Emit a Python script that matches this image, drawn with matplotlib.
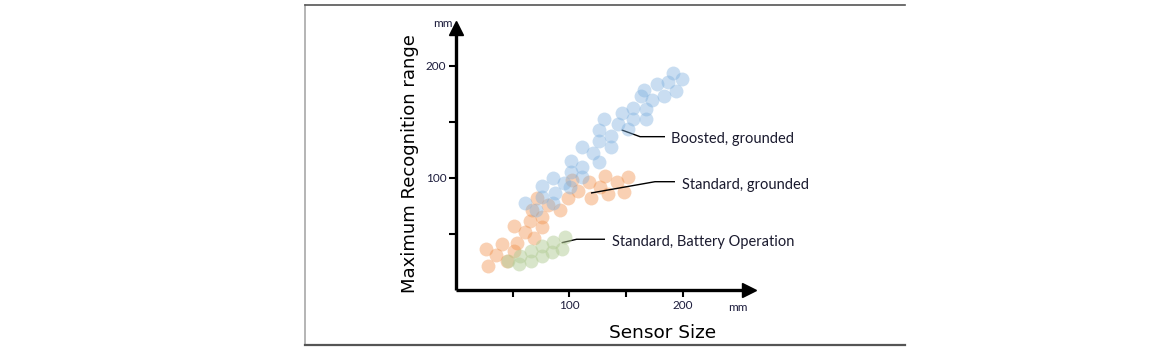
import matplotlib
matplotlib.use("Agg")
import matplotlib.pyplot as plt
from matplotlib.lines import Line2D

# ---- data ----
boosted_x = [60.8, 70.5, 75.8, 75.8, 85.5, 85.5, 87.3, 95.2, 100.5, 101.4, 101.4, 111.1, 111.1,
             111.1, 120.8, 126.1, 126.1, 126.1, 130.5, 136.7, 136.7, 142.9, 146.4, 151.7, 156.1,
             156.1, 163.1, 165.8, 167.5, 167.5, 172.8, 177.2, 183.4, 187.0, 191.4, 194.0, 199.3]
boosted_y = [77.7, 71.4, 92.9, 83.0, 100.0, 77.7, 86.6, 95.5, 92.0, 115.2, 105.4, 127.7, 109.8,
             100.9, 122.3, 142.9, 133.0, 114.3, 152.7, 137.5, 127.7, 148.2, 158.0, 143.8, 162.5,
             152.7, 173.2, 178.6, 161.6, 152.7, 169.6, 183.9, 173.2, 185.7, 193.8, 177.7, 188.4]

standard_x = [28.2, 26.5, 35.3, 40.6, 45.0, 51.1, 53.8, 51.1, 60.8, 65.3, 68.8, 75.8, 75.8, 67.0,
              71.4, 81.1, 91.7, 98.8, 102.3, 107.6, 117.3, 119.0, 127.0, 131.4, 134.0, 142.0,
              148.1, 151.7]
standard_y = [21.4, 36.6, 31.3, 41.1, 25.9, 34.8, 42.0, 57.1, 51.8, 61.6, 46.4, 56.3, 65.2, 71.4,
              82.1, 75.9, 71.4, 82.1, 98.2, 88.4, 96.4, 82.1, 92.0, 101.8, 85.7, 96.4, 87.5, 100.9]

battery_x = [45.9, 55.6, 56.4, 66.1, 66.1, 75.8, 75.8, 84.7, 85.5, 93.5, 96.1]
battery_y = [25.9, 23.2, 30.4, 25.9, 34.8, 30.4, 39.3, 33.9, 42.9, 36.6, 47.3]

tick_values = [50, 100, 150, 200]
tick_labels = ["", "100", "", "200"]

series_labels = ["Boosted, grounded", "Standard, grounded", "Standard, Battery Operation"]

# ---- figure ----
W, H = 1170, 351
fig = plt.figure(figsize=(W / 100, H / 100), dpi=100)
fig.patch.set_facecolor("white")

# frame around the chart
fig.add_artist(Line2D([305 / W, 305 / W], [1 - 5 / H, 1 - 345 / H], color="#a8a8a8", lw=1.2))
fig.add_artist(Line2D([305 / W, 905 / W], [1 - 345 / H, 1 - 345 / H], color="#555555", lw=1.6))
fig.add_artist(Line2D([305 / W, 905 / W], [1 - 5 / H, 1 - 5 / H], color="#555555", lw=1.2))

# axes: origin at pixel (456, 290), 1.134 px/unit in x, 1.12 px/unit in y
xmax, ymax = 258, 234
left = 456 / W
bottom = (H - 290) / H
ax = fig.add_axes([left, bottom, xmax * 1.134 / W, ymax * 1.12 / H])
ax.set_xlim(0, xmax)
ax.set_ylim(0, ymax)
ax.patch.set_alpha(0)

s = 100
ax.scatter(standard_x, standard_y, s=s, color="#f1914b", alpha=0.42, linewidths=0, zorder=2)
ax.scatter(battery_x, battery_y, s=s, color="#b3cc96", alpha=0.5, linewidths=0, zorder=3)
ax.scatter(boosted_x, boosted_y, s=s, color="#7fb0de", alpha=0.42, linewidths=0, zorder=4)

for side in ["top", "right"]:
    ax.spines[side].set_visible(False)
for side in ["left", "bottom"]:
    ax.spines[side].set_linewidth(2.4)
    ax.spines[side].set_color("black")
    ax.spines[side].set_capstyle("butt")

ax.plot(1, 0, ">", color="black", ms=10, transform=ax.get_yaxis_transform(), clip_on=False)
ax.plot(0, 1, "^", color="black", ms=10, transform=ax.get_xaxis_transform(), clip_on=False)

ax.set_xticks(tick_values)
ax.set_xticklabels(tick_labels)
ax.set_yticks(tick_values)
ax.set_yticklabels(tick_labels)
ax.tick_params(direction="out", length=5, width=1.5, colors="black", labelsize=8.5,
               labelcolor="#1c1c3c", pad=2)
for lab in ax.get_xticklabels() + ax.get_yticklabels():
    lab.set_family("Lato")

ax.text(-3, ymax + 4, "mm", ha="right", va="center", fontsize=8.5, family="Lato", color="#1c1c3c",
        clip_on=False)
ax.text(xmax - 1, -15.5, "mm", ha="right", va="center", fontsize=8.5, family="Lato",
        color="#1c1c3c", clip_on=False)

ax.set_xlabel("Sensor Size", fontsize=13.3, color="black")
ax.xaxis.set_label_coords((663 - 456) / (xmax * 1.134), -(333 - 290) / (ymax * 1.12))
ax.xaxis.label.set_va("center")
ax.set_ylabel("Maximum Recognition range", fontsize=13, color="black")
ax.yaxis.set_label_coords(-(456 - 410) / (xmax * 1.134), (290 - 164) / (ymax * 1.12))
ax.yaxis.label.set_va("center")

# annotation leader lines and labels
ann_style = dict(color="black", lw=1.0, clip_on=False, solid_capstyle="butt")
ax.plot([146.1, 162.3, 184.3], [142.9, 136.9, 136.9], **ann_style)
ax.plot([119.0, 175.5, 193.1], [86.6, 96.7, 96.7], **ann_style)
ax.plot([93.2, 106.4, 131.4], [42.2, 45.3, 45.3], **ann_style)

txt = dict(ha="left", va="center", fontsize=10.5, family="Lato", color="#1a1a2e")
ax.text(189.6, 134.5, series_labels[0], **txt)
ax.text(199.0, 94.0, series_labels[1], **txt)
ax.text(137.3, 43.0, series_labels[2], **txt)

fig.savefig("out.png", dpi=100)
